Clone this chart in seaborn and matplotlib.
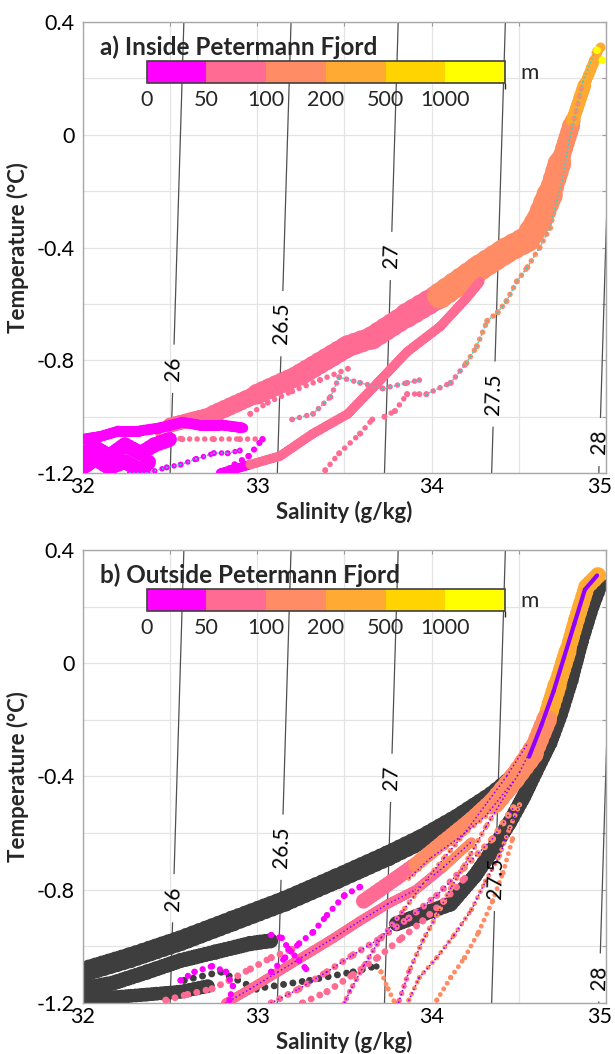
import numpy as np
import pandas as pd
import matplotlib
matplotlib.use("Agg")
import matplotlib.pyplot as plt
import matplotlib.transforms as mtransforms
import seaborn as sns
from matplotlib.colors import ListedColormap, BoundaryNorm
from matplotlib.collections import LineCollection
from matplotlib.cm import ScalarMappable
from matplotlib.ticker import MultipleLocator, FixedLocator

# ------------------------------------------------------------------ data
depth_bounds = [0, 50, 100, 200, 500, 1000, 2000]
depth_tick_labels = ["0", "50", "100", "200", "500", "1000"]
depth_colors = ["#FF00FF", "#FF6B93", "#FF8C64", "#FFAA33", "#FFD400", "#FFFF00"]
sigma_levels = [26, 26.5, 27, 27.5, 28]
sigma_fmt = {26: "26", 26.5: "26.5", 27: "27", 27.5: "27.5", 28: "28"}
x_ticks = [32, 33, 34, 35]
y_ticks = [-1.2, -0.8, -0.4, 0, 0.4]
y_tick_labels = ["-1.2", "-0.8", "-0.4", "0", "0.4"]
titles = ["a) Inside Petermann Fjord", "b) Outside Petermann Fjord"]

# --- panel a : inside the fjord (salinity g/kg, temperature degC, depth m)
a_band_S = [32.50, 32.75, 33.00, 33.25, 33.52, 33.66, 33.86, 34.05, 34.28, 34.43,
            34.55, 34.62, 34.68, 34.74, 34.81, 34.88, 34.94, 34.97]
a_band_T = [-1.03, -0.99, -0.92, -0.85, -0.75, -0.72, -0.64, -0.57, -0.47, -0.41,
            -0.37, -0.30, -0.21, -0.09, 0.05, 0.18, 0.27, 0.31]
a_band_z = [60, 65, 70, 75, 80, 85, 95, 120, 130, 150, 160, 170, 180, 190, 250, 300, 400, 450]

a_band2_S = [32.79, 32.96, 33.13, 33.32, 33.52, 33.66, 33.86, 34.05, 34.20, 34.28]
a_band2_T = [-1.20, -1.17, -1.14, -1.06, -0.99, -0.90, -0.77, -0.68, -0.58, -0.52]
a_band2_z = [40, 60, 70, 70, 75, 75, 80, 85, 90, 95]

a_mag1_S = [32.00, 32.10, 32.21, 32.33, 32.44, 32.57, 32.67, 32.80, 32.92]
a_mag1_T = [-1.08, -1.07, -1.05, -1.05, -1.04, -1.02, -1.03, -1.03, -1.04]
a_mag1_z = [20, 25, 25, 30, 30, 35, 35, 40, 40]
a_mag2_S = [32.00, 32.07, 32.15, 32.24, 32.33, 32.41, 32.50]
a_mag2_T = [-1.13, -1.11, -1.14, -1.10, -1.13, -1.10, -1.08]
a_mag2_z = [20, 20, 25, 25, 30, 30, 35]
a_mag3_S = [32.00, 32.07, 32.15, 32.24, 32.33, 32.38]
a_mag3_T = [-1.18, -1.15, -1.18, -1.16, -1.19, -1.16]
a_mag3_z = [15, 20, 20, 25, 25, 30]
a_mag4_S = [32.80, 32.87, 32.95, 33.03]
a_mag4_T = [-1.20, -1.17, -1.14, -1.08]
a_mag4_z = [30, 30, 35, 35]

a_mc_S = [32.27, 32.37, 32.48, 32.56, 32.65, 32.75, 32.83, 32.90]
a_mc_T = [-1.20, -1.20, -1.18, -1.17, -1.15, -1.13, -1.13, -1.12]
a_mc_z = [30, 30, 32, 34, 36, 38, 40, 42]

a_p3_S = [32.43, 32.57, 32.75, 32.90, 33.03]
a_p3_T = [-1.06, -1.08, -1.08, -1.08, -1.08]
a_p3_z = [60, 60, 65, 65, 65]
a_p4_S = [32.96, 33.06, 33.20, 33.36, 33.52]
a_p4_T = [-0.99, -0.95, -0.91, -0.87, -0.83]
a_p4_z = [70, 70, 75, 75, 80]
a_p5_S = [33.20, 33.32, 33.42, 33.47, 33.59, 33.72, 33.86, 33.93]
a_p5_T = [-1.01, -0.99, -0.93, -0.86, -0.88, -0.90, -0.88, -0.87]
a_p5_z = [80, 80, 80, 85, 85, 85, 90, 90]
a_p6_S = [33.39, 33.47, 33.59, 33.66]
a_p6_T = [-1.19, -1.13, -1.06, -1.01]
a_p6_z = [85, 85, 85, 85]
a_p7_S = [33.73, 33.79, 33.86, 33.93]
a_p7_T = [-1.00, -0.98, -0.92, -0.92]
a_p7_z = [85, 85, 90, 90]

a_cy_S = [33.97, 34.11, 34.20, 34.26, 34.32, 34.38, 34.43, 34.49, 34.55, 34.62,
          34.68, 34.72, 34.75, 34.79, 34.87, 34.94]
a_cy_T = [-0.92, -0.88, -0.81, -0.75, -0.66, -0.63, -0.59, -0.52, -0.47, -0.40,
          -0.33, -0.23, -0.16, -0.02, 0.19, 0.30]
a_cy_z = [90, 95, 110, 120, 130, 140, 150, 150, 160, 170, 180, 185, 190, 195, 300, 420]

a_yel_S = [34.95, 34.98]
a_yel_T = [0.30, 0.265]
a_yel_z = [1100, 1100]

# --- panel b : outside the fjord
b_g1_S = [32.00, 32.27, 32.56, 32.86, 33.16, 33.46, 33.75, 33.95, 34.15, 34.35, 34.49, 34.60]
b_g1_T = [-1.09, -1.04, -0.98, -0.91, -0.84, -0.76, -0.68, -0.62, -0.55, -0.47, -0.40, -0.30]
b_g2_S = [32.00, 32.17, 32.37, 32.56, 32.76, 32.96, 33.08]
b_g2_T = [-1.15, -1.13, -1.09, -1.05, -1.02, -0.99, -0.98]
b_g3_S = [32.00, 32.17, 32.37, 32.56, 32.72]
b_g3_T = [-1.19, -1.18, -1.17, -1.16, -1.14]
b_g4_S = [32.58, 32.79, 32.99, 33.30, 33.55, 33.68]
b_g4_T = [-1.12, -1.09, -1.15, -1.12, -1.09, -1.07]
b_g5_S = [33.80, 34.11, 34.25, 34.35, 34.45, 34.53, 34.60, 34.68, 34.74, 34.80, 34.86, 34.92, 34.97]
b_g5_T = [-0.92, -0.85, -0.75, -0.66, -0.56, -0.47, -0.38, -0.28, -0.18, -0.06, 0.08, 0.20, 0.28]

b_top_S = [34.955, 34.89, 34.83, 34.78, 34.72, 34.66, 34.58, 34.47, 34.35]
b_top_T = [0.31, 0.27, 0.15, 0.04, -0.08, -0.20, -0.32, -0.41, -0.50]
b_top_z = [450, 400, 300, 250, 220, 180, 160, 150, 140]

b_pb1_S = [33.61, 33.75, 33.91, 34.07, 34.23, 34.37, 34.49, 34.58]
b_pb1_T = [-0.84, -0.78, -0.71, -0.63, -0.55, -0.47, -0.38, -0.29]
b_pb1_z = [70, 75, 120, 130, 140, 150, 160, 170]
b_pb2_S = [32.82, 32.96, 33.12, 33.28, 33.44, 33.59, 33.75, 33.91, 34.07, 34.23]
b_pb2_T = [-1.20, -1.15, -1.09, -1.03, -0.97, -0.91, -0.85, -0.80, -0.72, -0.63]
b_pb2_z = [60, 65, 70, 70, 75, 75, 80, 90, 110, 120]
b_pb3_S = [33.08, 33.24, 33.40, 33.55, 33.71, 33.87, 34.03, 34.19, 34.35, 34.47]
b_pb3_T = [-1.20, -1.15, -1.09, -1.03, -0.97, -0.90, -0.82, -0.72, -0.62, -0.51]
b_pb3_z = [70, 70, 75, 75, 80, 85, 90, 110, 130, 150]
b_pb4_S = [33.26, 33.40, 33.55, 33.69, 33.83, 33.95, 34.07, 34.19]
b_pb4_T = [-1.20, -1.16, -1.10, -1.04, -0.97, -0.91, -0.84, -0.76]
b_pb4_z = [80, 80, 80, 80, 85, 85, 90, 90]
b_pb5_S = [32.475, 32.60, 32.74, 32.84, 32.96, 33.08, 33.20]
b_pb5_T = [-1.19, -1.17, -1.15, -1.12, -1.08, -1.04, -1.01]
b_pb5_z = [60, 60, 60, 60, 65, 65, 65]

b_sb1_S = [33.87, 33.93, 34.03, 34.13, 34.23, 34.31, 34.39, 34.45, 34.505]
b_sb1_T = [-1.19, -1.11, -1.04, -0.96, -0.87, -0.77, -0.68, -0.58, -0.50]
b_sb1_z = [150, 150, 150, 150, 150, 155, 160, 160, 165]
b_sb2_S = [34.03, 34.11, 34.19, 34.27, 34.35, 34.41, 34.465]
b_sb2_T = [-1.19, -1.11, -1.04, -0.95, -0.84, -0.74, -0.62]
b_sb2_z = [150, 150, 150, 155, 160, 160, 165]
b_sb3_S = [33.71, 33.75, 33.79]
b_sb3_T = [-1.09, -1.15, -1.20]
b_sb3_z = [140, 140, 140]

b_mb1_S = [33.08, 33.16, 33.24, 33.32, 33.40, 33.50, 33.59]
b_mb1_T = [-1.09, -1.04, -0.99, -0.95, -0.89, -0.82, -0.79]
b_mb1_z = [30, 30, 35, 35, 40, 40, 45]
b_mb2_S = [32.56, 32.64, 32.74, 32.82, 32.86, 32.84]
b_mb2_T = [-1.12, -1.09, -1.07, -1.09, -1.14, -1.19]
b_mb2_z = [25, 25, 30, 30, 30, 35]
b_mb3_S = [33.08, 33.14, 33.18, 33.24, 33.28]
b_mb3_T = [-0.96, -0.97, -1.01, -1.05, -1.08]
b_mb3_z = [30, 30, 35, 35, 40]

b_pu0_S = [34.95, 34.88, 34.82, 34.76, 34.70, 34.63, 34.56]
b_pu0_T = [0.31, 0.26, 0.14, 0.02, -0.10, -0.22, -0.33]
b_pu0_z = [450, 400, 300, 250, 220, 180, 160]
b_pu1_S = [34.545, 34.43, 34.31, 34.19, 34.07, 33.95, 33.83, 33.71, 33.61, 33.53, 33.50]
b_pu1_T = [-0.29, -0.40, -0.50, -0.60, -0.69, -0.78, -0.88, -0.97, -1.07, -1.16, -1.20]
b_pu1_z = [170, 160, 150, 140, 120, 110, 95, 90, 85, 80, 80]
b_pu2_S = [34.60, 34.505, 34.41, 34.31, 34.21, 34.11, 34.03, 33.95, 33.87, 33.81]
b_pu2_T = [-0.27, -0.385, -0.48, -0.58, -0.69, -0.795, -0.89, -0.98, -1.09, -1.20]
b_pu2_z = [170, 160, 150, 140, 130, 120, 110, 105, 95, 90]
b_pu3_S = [34.465, 34.31, 34.15, 33.99, 33.87]
b_pu3_T = [-0.42, -0.54, -0.62, -0.69, -0.76]
b_pu3_z = [150, 140, 130, 120, 110]

# ------------------------------------------------------------------ style
sns.set_theme(style="white")
plt.rcParams["font.family"] = ["Lato", "DejaVu Sans"]

zone_labels = depth_tick_labels
zone_palette = dict(zip(zone_labels, depth_colors))
GRAY = "#3E3E3E"
CYAN = "#2FD3CF"
PURPLE = "#9000FF"
DOTS = (0, (0.01, 1.35))     # chain of round dots
SCALLOP = (0, (0.01, 0.32))  # overlapping dots -> slightly ragged band edge
CORE_DOTS = (0, (0.01, 2.2))
TICK_FS = 15.5

# linear equation of state (sigma-0) used for the isopycnals
EOS_S0, EOS_T0, EOS_BETA, EOS_ALPHA = 32.50, -1.2, 0.813, 0.040


def sigma0(S, T):
    return 26.0 + EOS_BETA * (S - EOS_S0) - EOS_ALPHA * (T - EOS_T0)


def s_on_isopycnal(sig, T):
    return EOS_S0 + (sig - 26.0 + EOS_ALPHA * (T - EOS_T0)) / EOS_BETA


def _segments(df):
    pts = df[["S", "T"]].to_numpy()
    return np.stack([pts[:-1], pts[1:]], axis=1)


def _add_lines(ax, segs, cols, lw, mode, zorder):
    lw_arr = np.atleast_1d(np.asarray(lw, dtype=float))
    if mode == "band":
        ax.add_collection(LineCollection(segs, colors=cols, linewidths=lw_arr * 0.88,
                                         capstyle="round", zorder=zorder))
        ax.add_collection(LineCollection(segs, colors=cols, linewidths=lw_arr,
                                         linestyles=[SCALLOP], capstyle="round",
                                         zorder=zorder))
    else:
        ax.add_collection(LineCollection(segs, colors=cols, linewidths=lw_arr,
                                         linestyles=[DOTS], capstyle="round",
                                         zorder=zorder))


def draw_trace(ax, S, T, z, lw, s, mode="dots", core=None, core_lw=1.3,
               core_style=CORE_DOTS, zorder=3.0):
    df = pd.DataFrame({"S": S, "T": T, "depth": z})
    df["zone"] = pd.cut(df["depth"], bins=depth_bounds, labels=zone_labels)
    cols = [zone_palette[k] for k in df["zone"]][:-1]
    segs = _segments(df)
    _add_lines(ax, segs, cols, lw, mode, zorder)
    sns.scatterplot(data=df, x="S", y="T", hue="zone", palette=zone_palette,
                    hue_order=zone_labels, s=s, linewidth=0, legend=False,
                    ax=ax, zorder=zorder + 0.05)
    if core is not None:
        ax.add_collection(LineCollection(segs, colors=core, linewidths=core_lw,
                                         linestyles=[core_style],
                                         capstyle="round", zorder=zorder + 0.1))


def draw_gray(ax, S, T, lw, s, mode="band", zorder=2.0):
    df = pd.DataFrame({"S": S, "T": T})
    segs = _segments(df)
    _add_lines(ax, segs, GRAY, lw, mode, zorder)
    sns.scatterplot(data=df, x="S", y="T", color=GRAY, s=s, linewidth=0,
                    legend=False, ax=ax, zorder=zorder)


fig = plt.figure(figsize=(6.15, 10.54), dpi=100)
axA = fig.add_axes([0.135, 0.5512, 0.850, 0.4279])
axB = fig.add_axes([0.135, 0.0484, 0.850, 0.4298])

label_T = {
    0: {26: -0.83, 26.5: -0.67, 27: -0.43, 27.5: -0.92, 28: -1.09},
    1: {26: -0.83, 26.5: -0.65, 27: -0.405, 27.5: -0.76, 28: -1.11},
}

Sg, Tg = np.meshgrid(np.linspace(31.8, 35.3, 300), np.linspace(-1.3, 0.5, 200))
SIG = sigma0(Sg, Tg)

for i, ax in enumerate([axA, axB]):
    ax.set_facecolor("white")
    ax.set_xlim(32, 35)
    ax.set_ylim(-1.2, 0.4)
    ax.xaxis.set_major_locator(FixedLocator(x_ticks))
    ax.xaxis.set_minor_locator(MultipleLocator(0.5))
    ax.yaxis.set_major_locator(FixedLocator(y_ticks))
    ax.yaxis.set_minor_locator(MultipleLocator(0.2))
    ax.set_yticklabels(y_tick_labels)
    ax.set_xticklabels([str(v) for v in x_ticks])
    ax.grid(True, which="both", color="#E4E4E4", lw=0.9, zorder=0)
    ax.set_axisbelow(True)
    for sp in ax.spines.values():
        sp.set_color("#A8A8A8")
        sp.set_linewidth(1.0)
    ax.tick_params(which="both", direction="in", length=3, width=0.8,
                   color="#9A9A9A", top=True, right=True)
    ax.tick_params(axis="x", labelsize=TICK_FS, pad=3, labelcolor="black")
    ax.tick_params(axis="y", labelsize=TICK_FS, pad=6, labelcolor="black")

    cs = ax.contour(Sg, Tg, SIG, levels=sigma_levels, colors="#505050",
                    linewidths=0.9, zorder=1.5)
    manual = [(s_on_isopycnal(lv, label_T[i][lv]), label_T[i][lv]) for lv in sigma_levels]
    txts = ax.clabel(cs, levels=sigma_levels, fmt=sigma_fmt, manual=manual,
                     inline=True, inline_spacing=12, fontsize=15, colors="black")
    for t in txts:
        t.set_zorder(8)

# ---------------- panel a marks
draw_trace(axA, a_band_S, a_band_T, a_band_z, mode="band",
           lw=[11, 13, 15, 16, 16, 17, 18, 19, 19, 19, 19, 19, 17, 13, 10, 8, 6], s=50, zorder=3.0)
draw_trace(axA, a_band2_S, a_band2_T, a_band2_z, mode="band", lw=7, s=30, zorder=3.1)
draw_trace(axA, a_p3_S, a_p3_T, a_p3_z, lw=4, s=18, zorder=3.2)
draw_trace(axA, a_p4_S, a_p4_T, a_p4_z, lw=4, s=18, zorder=3.2)
draw_trace(axA, a_p5_S, a_p5_T, a_p5_z, lw=4, s=16, core=CYAN, zorder=3.3)
draw_trace(axA, a_p6_S, a_p6_T, a_p6_z, lw=4, s=18, zorder=3.2)
draw_trace(axA, a_p7_S, a_p7_T, a_p7_z, lw=4, s=18, zorder=3.2)
draw_trace(axA, a_mag1_S, a_mag1_T, a_mag1_z, mode="band", lw=8, s=30, zorder=3.4)
draw_trace(axA, a_mag2_S, a_mag2_T, a_mag2_z, mode="band", lw=11, s=30, zorder=3.4)
draw_trace(axA, a_mag3_S, a_mag3_T, a_mag3_z, mode="band", lw=11, s=30, zorder=3.4)
draw_trace(axA, a_mag4_S, a_mag4_T, a_mag4_z, lw=4.5, s=20, zorder=3.4)
draw_trace(axA, a_mc_S, a_mc_T, a_mc_z, lw=4, s=18, core=CYAN, zorder=3.5)
draw_trace(axA, a_cy_S, a_cy_T, a_cy_z, lw=4, s=18, core=CYAN, zorder=3.6)
draw_trace(axA, a_yel_S, a_yel_T, a_yel_z, lw=0.1, s=30, zorder=3.7)

# ---------------- panel b marks
draw_gray(axB, b_g1_S, b_g1_T, lw=15, s=50)
draw_gray(axB, b_g2_S, b_g2_T, lw=11, s=30)
draw_gray(axB, b_g3_S, b_g3_T, lw=10, s=30)
draw_gray(axB, b_g4_S, b_g4_T, lw=5, s=20, mode="dots")
draw_gray(axB, b_g5_S, b_g5_T, lw=11, s=40)
draw_trace(axB, b_top_S, b_top_T, b_top_z, mode="band",
           lw=[12, 12, 12, 13, 14, 15, 16, 16], s=40, zorder=3.0)
draw_trace(axB, b_pb1_S, b_pb1_T, b_pb1_z, mode="band", lw=11, s=40, zorder=3.1)
draw_trace(axB, b_pb2_S, b_pb2_T, b_pb2_z, mode="band", lw=7, s=30, core=PURPLE, zorder=3.2)
draw_trace(axB, b_pb3_S, b_pb3_T, b_pb3_z, lw=5, s=24, core=PURPLE, zorder=3.2)
draw_trace(axB, b_pb4_S, b_pb4_T, b_pb4_z, lw=5, s=24, zorder=3.2)
draw_trace(axB, b_pb5_S, b_pb5_T, b_pb5_z, lw=5, s=24, zorder=3.2)
draw_trace(axB, b_sb1_S, b_sb1_T, b_sb1_z, lw=3.5, s=14, core=PURPLE, zorder=3.3)
draw_trace(axB, b_sb2_S, b_sb2_T, b_sb2_z, lw=3.5, s=14, zorder=3.3)
draw_trace(axB, b_sb3_S, b_sb3_T, b_sb3_z, lw=3.5, s=14, zorder=3.3)
draw_trace(axB, b_mb1_S, b_mb1_T, b_mb1_z, lw=4.5, s=20, zorder=3.4)
draw_trace(axB, b_mb2_S, b_mb2_T, b_mb2_z, lw=4.5, s=20, zorder=3.4)
draw_trace(axB, b_mb3_S, b_mb3_T, b_mb3_z, lw=4.5, s=20, zorder=3.4)
draw_trace(axB, b_pu0_S, b_pu0_T, b_pu0_z, lw=5, s=12, core=PURPLE, core_lw=3.0,
           core_style="solid", zorder=3.5)
draw_trace(axB, b_pu1_S, b_pu1_T, b_pu1_z, lw=4, s=12, core=PURPLE, zorder=3.5)
draw_trace(axB, b_pu2_S, b_pu2_T, b_pu2_z, lw=4, s=12, core=PURPLE, zorder=3.5)
draw_trace(axB, b_pu3_S, b_pu3_T, b_pu3_z, lw=4, s=12, core=PURPLE, zorder=3.5)

# ---------------- labels, titles, colour bars
cmap = ListedColormap(depth_colors)
norm = BoundaryNorm(depth_bounds, cmap.N)
shift_left = mtransforms.ScaledTranslation(-6 / 100, 0, fig.dpi_scale_trans)
for i, ax in enumerate([axA, axB]):
    ax.set_xlim(32, 35)
    ax.set_ylim(-1.2, 0.4)
    ax.set_xlabel("Salinity (g/kg)", fontsize=16, fontweight="bold")
    ax.set_ylabel("Temperature (\u00b0C)", fontsize=16, fontweight="bold")
    ax.yaxis.set_label_coords(-0.103, 0.5)
    ax.xaxis.set_label_coords(0.5, -0.062)
    last = ax.get_xticklabels()[-1]
    last.set_transform(last.get_transform() + shift_left)
    ax.text(0.033, 0.945, titles[i], transform=ax.transAxes, fontsize=17.5,
            fontweight="bold", ha="left", va="center", zorder=9)
    cax = ax.inset_axes([0.122, 0.865, 0.685, 0.049])
    cb = fig.colorbar(ScalarMappable(norm=norm, cmap=cmap), cax=cax,
                      orientation="horizontal", spacing="uniform",
                      ticks=depth_bounds[:-1])
    cb.ax.set_xticklabels(depth_tick_labels)
    cb.ax.tick_params(length=0, labelsize=TICK_FS, pad=5)
    cb.outline.set_edgecolor("#404040")
    cb.outline.set_linewidth(1.2)
    ax.text(0.836, 0.888, "m", transform=ax.transAxes, fontsize=16,
            ha="left", va="center")

fig.savefig("out.png", dpi=100)
